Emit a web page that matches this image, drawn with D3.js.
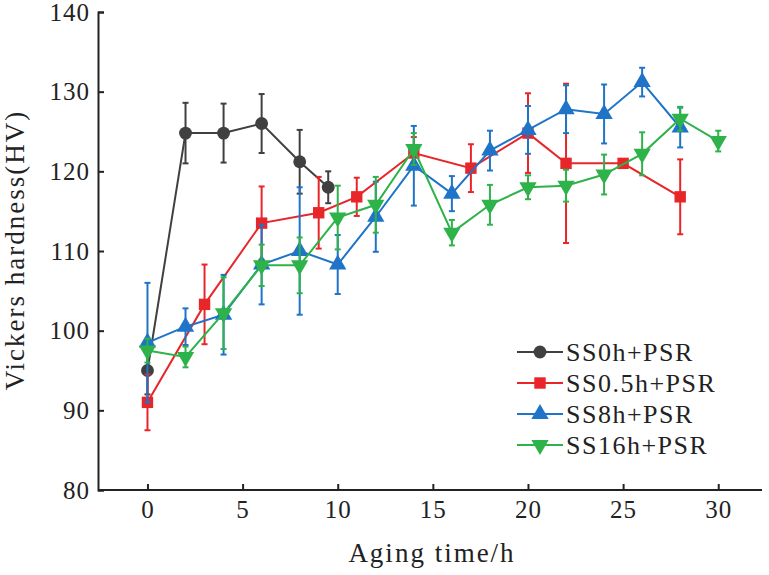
<!DOCTYPE html><html><head><meta charset="utf-8">
<script src="https://cdn.jsdelivr.net/npm/d3@7"></script>
<style>body{margin:0;background:#fff}svg text{font-family:"Liberation Serif","Times New Roman",Times,serif !important}</style></head><body>
<svg id="c" width="769" height="575"></svg>
<script>
const xTicks=[0,5,10,15,20,25,30];
const yTicks=[80,90,100,110,120,130,140];
const names=["SS0h+PSR","SS0.5h+PSR","SS8h+PSR","SS16h+PSR"];
const colors=["#404040","#e8262a","#1f74c8","#2eb24a"];
const symbols=[d3.symbolCircle,d3.symbolSquare,d3.symbolTriangle,"down"];
const x0=[0,2,4,6,8,9.5];
const y0=[95,124.8,124.8,126,121.2,118];
const e0=[3,3.8,3.7,3.7,4,2];
const x1=[0,3,6,9,11,14,17,20,22,25,28];
const y1=[91,103.3,113.5,114.8,116.8,122.3,120.4,124.8,121,121,116.8];
const e1=[3.5,5,4.6,4.5,2.4,2,3,5,10,0.5,4.7];
const x2=[0,2,4,6,8,10,12,14,16,18,20,22,24,26,28];
const y2=[98.5,100.5,102,108.3,110,108.3,114.3,120.7,117.2,122.6,125.2,127.8,127.2,131.2,125.5];
const e2=[7.5,2.3,5,5,8,3.7,4.4,5,2.2,2.5,3,3,3.7,1.8,2.5];
const x3=[0,2,4,6,8,10,12,14,16,18,20,22,24,26,28,30];
const y3=[97.5,96.7,102.2,108.2,108.2,114.2,115.8,122.8,112.3,115.8,118,118.2,119.6,122.2,126.6,123.8];
const e3=[1.5,1.3,4.5,2.6,3.5,4,3.5,2,1.6,2.5,1.5,2,2.5,2.7,1.5,1.3];
const series=[[x0,y0,e0],[x1,y1,e1],[x2,y2,e2],[x3,y3,e3]];
const F="Liberation Serif";
const svg=d3.select("#c");
const x=d3.scaleLinear().domain([-2.6,32.3]).range([98,762]);
const y=d3.scaleLinear().domain([80,140]).range([490,12]);
const ax=svg.append("g").attr("transform","translate(0,490)").call(d3.axisBottom(x).tickValues(xTicks).tickSize(-6).tickPadding(10));
const ay=svg.append("g").attr("transform","translate(98,0)").call(d3.axisLeft(y).tickValues(yTicks).tickSize(-6).tickPadding(8));
[ax,ay].forEach(a=>{a.attr("font-family",F);a.selectAll("text").attr("font-size",25).attr("fill","#222").attr("letter-spacing",1);a.selectAll("line,path").attr("stroke","#222").attr("stroke-width",2);});
ax.select(".domain").attr("d","M98,0H762");
svg.append("text").attr("font-family",F).attr("x",432).attr("y",562).attr("text-anchor","middle").attr("font-size",27).attr("fill","#222").attr("letter-spacing",2).text("Aging time/h");
svg.append("text").attr("font-family",F).attr("transform","translate(24,250) rotate(-90)").attr("text-anchor","middle").attr("font-size",27).attr("fill","#222").attr("letter-spacing",2).text("Vickers hardness(HV)");
function sym(i,size){if(symbols[i]==="down")return d3.symbol(d3.symbolTriangle,size)();return d3.symbol(symbols[i],size)();}
series.forEach(([xs,ys,es],i)=>{
 const g=svg.append("g"),c=colors[i];
 xs.forEach((v,j)=>{const X=x(v);g.append("line").attr("x1",X).attr("x2",X).attr("y1",y(ys[j]-es[j])).attr("y2",y(ys[j]+es[j])).attr("stroke",c).attr("stroke-width",2);
  [ys[j]-es[j],ys[j]+es[j]].forEach(t=>g.append("line").attr("x1",X-3).attr("x2",X+3).attr("y1",y(t)).attr("y2",y(t)).attr("stroke",c).attr("stroke-width",2));});
 g.append("path").attr("d",d3.line().x(d=>x(d[0])).y(d=>y(d[1]))(xs.map((v,j)=>[v,ys[j]]))).attr("fill","none").attr("stroke",c).attr("stroke-width",2);
 xs.forEach((v,j)=>g.append("path").attr("d",sym(i,130)).attr("transform",`translate(${x(v)},${y(ys[j])})${symbols[i]==="down"?" rotate(180)":""}`).attr("fill",c));
});
const lg=svg.append("g").attr("font-family",F);
names.forEach((n,i)=>{const Y=352+i*31;
 lg.append("line").attr("x1",517).attr("x2",563).attr("y1",Y).attr("y2",Y).attr("stroke",colors[i]).attr("stroke-width",2);
 lg.append("path").attr("d",sym(i,130)).attr("transform",`translate(540,${Y})${symbols[i]==="down"?" rotate(180)":""}`).attr("fill",colors[i]);
 lg.append("text").attr("x",566).attr("y",Y+9).attr("font-size",26).attr("letter-spacing",1.5).attr("fill","#222").text(n);});
</script></body></html>
